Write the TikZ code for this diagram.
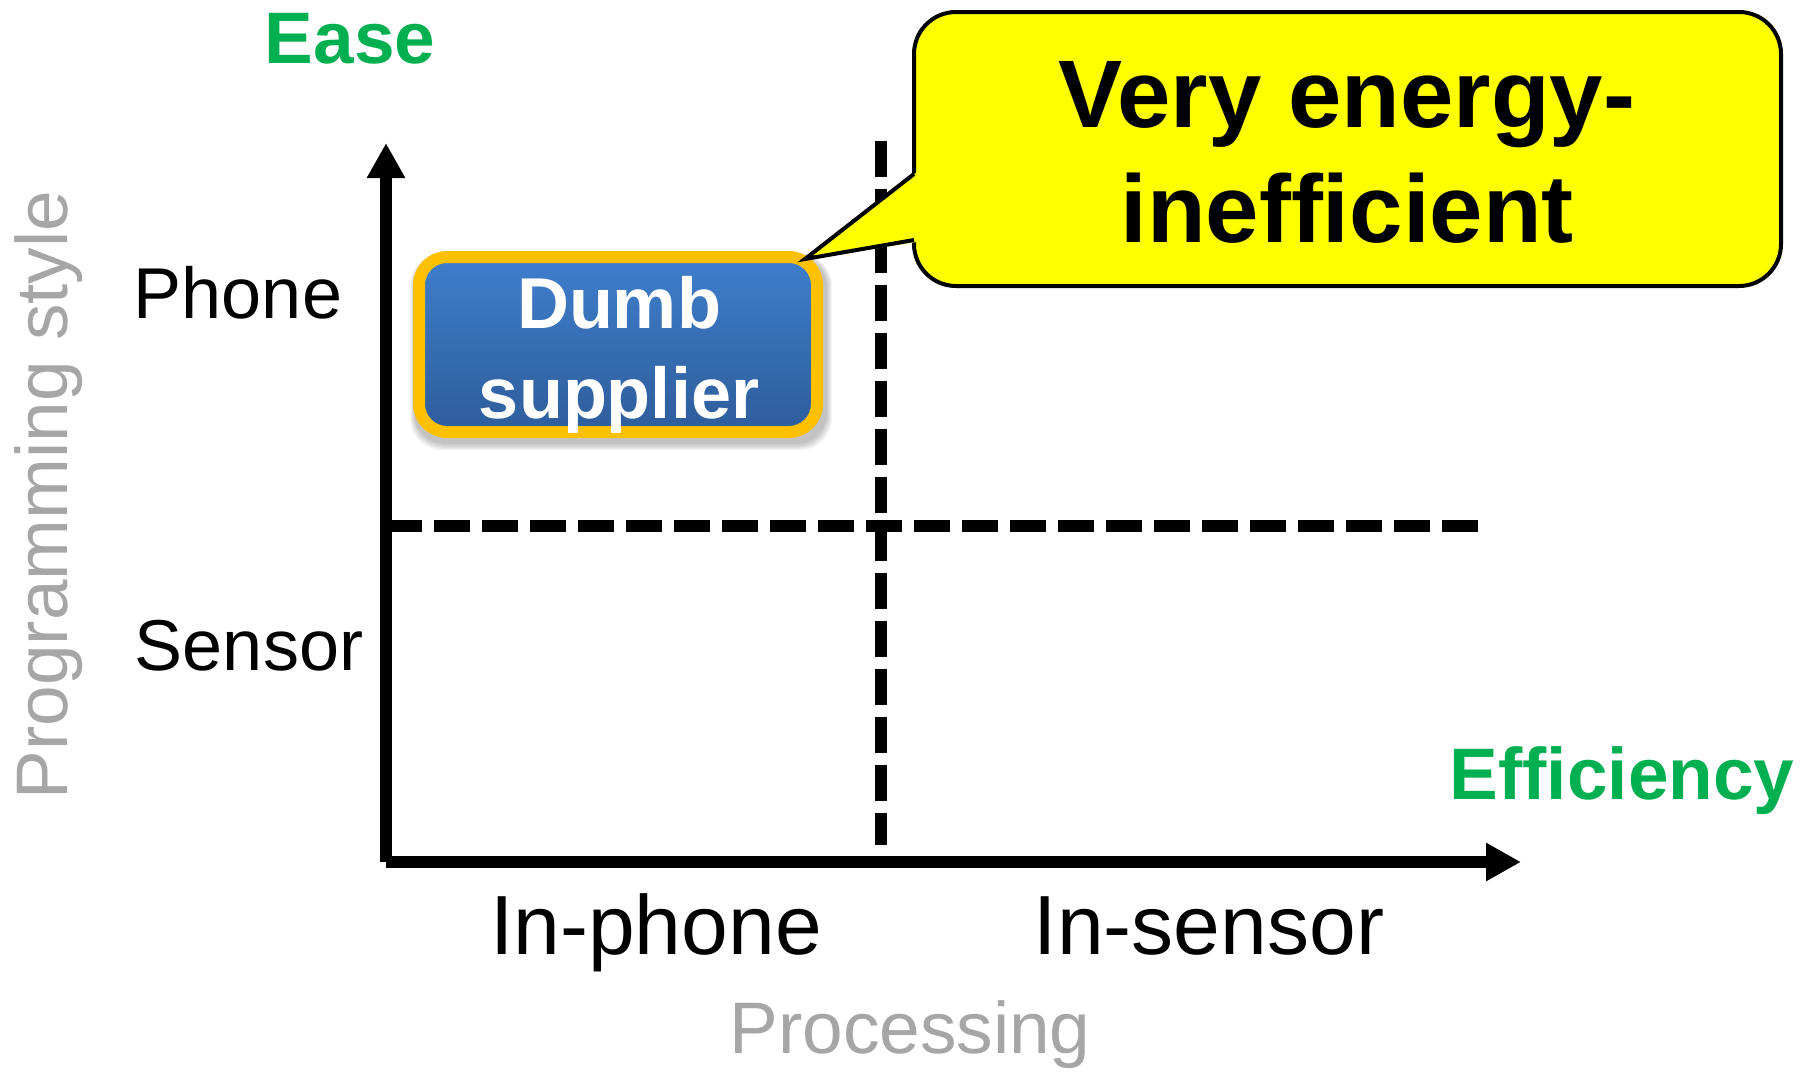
\documentclass[tikz,border=0pt]{standalone}
\usepackage{fontspec}
\setmainfont{Liberation Sans}
\usetikzlibrary{arrows.meta}

\definecolor{easegreen}{HTML}{00B050}
\definecolor{axisgray}{HTML}{A6A6A6}
\definecolor{boxtop}{HTML}{3E7ECC}
\definecolor{boxbottom}{HTML}{2E5D9B}
\definecolor{boxrim}{HTML}{FFC000}
\definecolor{calloutfill}{HTML}{FFFF00}

\newcommand{\fsz}[1]{\fontsize{#1}{#1}\selectfont}

\begin{document}
\begin{tikzpicture}[x=1pt, y=-1pt,
  lbl/.style={inner sep=0pt, outer sep=0pt, anchor=base},
  ticklbl/.style={lbl, font=\fsz{72}},
  catlbl/.style={lbl, font=\fsz{84}},
  axistitle/.style={lbl, font=\fsz{73}, text=axisgray},
  goal/.style={lbl, font=\fsz{73}\bfseries, text=easegreen},
  boxlbl/.style={lbl, font=\fsz{72}\bfseries, text=white},
  calloutlbl/.style={lbl, font=\fsz{96}\bfseries},
  axis/.style={line width=12pt, -{Triangle[width=36pt,length=35pt]}},
  divider/.style={line width=12.5pt, dash pattern=on 36pt off 12pt},
  dumbbox/.style={draw=boxrim, line width=12pt, rounded corners=28pt,
    top color=boxtop, bottom color=boxbottom, inner sep=0pt,
    minimum width=398pt, minimum height=175pt}
]
\useasboundingbox (0,0) rectangle (1816,1072);

% quadrant dividers
\coordinate (vtop) at (881,141);
\coordinate (vbot) at (881,845);
\coordinate (hleft) at (386,526);
\coordinate (hright) at (1480,526);
\draw[divider] (vtop) -- (vbot);
\draw[divider] (hleft) -- (hright);

% axes
\coordinate (ytip) at (386,143);
\coordinate (origin) at (386,862);
\coordinate (xtip) at (1521,862);
\draw[axis] (origin) -- (ytip);
\draw[axis] (origin) -- (xtip);

% axis goals and titles
\node[goal] (ease) at (350,63) {Ease};
\node[goal] (efficiency) at (1622,799) {Efficiency};
\node[axistitle, rotate=90] (progstyle) at (67,495) {Programming style};
\node[axistitle] (processing) at (910,1053) {Processing};

% category labels
\node[ticklbl] (phone) at (238,318) {Phone};
\node[ticklbl] (sensor) at (249,670) {Sensor};
\node[catlbl] (inphone) at (656,954) {In-phone};
\node[catlbl] (insensor) at (1209,954) {In-sensor};

% soft shadow under the supplier box
\foreach \s in {1,...,6}
  \fill[black, opacity=0.045, rounded corners=32pt]
    (415-\s*0.8, 257-\s*0.6) rectangle (826+\s*1.0, 443+\s*1.2);

% supplier box
\node[dumbbox] (dumb) at (618,344.5) {};
\node[boxlbl] (dumb1) at (619,328) {Dumb};
\node[boxlbl] (dumb2) at (619,418) {supplier};

% callout with its pointer towards the box
\coordinate (ptip) at (805,259);
\coordinate (pup) at (914,174);
\coordinate (plow) at (914,240);
\filldraw[fill=calloutfill, draw=black, line width=4pt, rounded corners=42pt]
  (914,12) rectangle (1781,286);
\fill[calloutfill] (917,172) -- (ptip) -- (917,242) -- cycle;
\draw[line width=4pt, line join=miter] (pup) -- (ptip) -- (plow);
\node[calloutlbl] (call1) at (1347,127) {Very energy-};
\node[calloutlbl] (call2) at (1347,242) {inefficient};
\end{tikzpicture}
\end{document}
